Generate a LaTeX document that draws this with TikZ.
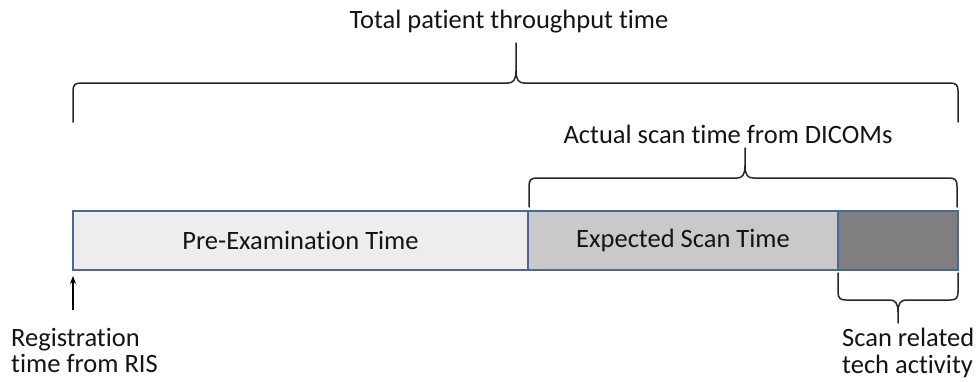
\documentclass[tikz,border=0pt]{standalone}
\usepackage{fontspec}
\setmainfont{Carlito}[Ligatures=NoCommon]
\usetikzlibrary{arrows.meta}
\definecolor{barline}{HTML}{4A679C}
\definecolor{preFill}{HTML}{EDEDED}
\definecolor{expFill}{HTML}{C9C9C9}
\definecolor{techFill}{HTML}{7F7F7F}
\definecolor{txt}{HTML}{141414}
% #1 x left, #2 x right, #3 y of the ends, #4 y of the bar, #5 x tip, #6 y tip, #7 sign (1: ends below bar, -1: ends above)
\newcommand\mybrace[7]{%
  \draw[bracestyle] (#1,#3) -- (#1,{#4+8*#7}) .. controls (#1,{#4+2*#7}) and ({#1+2},#4) .. ({#1+8},#4)
    -- ({#5-8},#4) .. controls ({#5-3},#4) and (#5,{#4-3*#7}) .. (#5,{#4-12*#7}) -- (#5,#6);
  \draw[bracestyle] (#5,{#4-12*#7}) .. controls (#5,{#4-3*#7}) and ({#5+3},#4) .. ({#5+8},#4)
    -- ({#2-8},#4) .. controls ({#2-2},#4) and (#2,{#4+2*#7}) .. (#2,{#4+8*#7}) -- (#2,#3);
}
\begin{document}
\begin{tikzpicture}[x=1pt,y=-1pt,
  bar/.style={draw=barline, line width=1.1pt, inner sep=0pt, outer sep=0pt, anchor=north west,
    minimum height=59pt, font=\fontsize{26.5}{27}\selectfont, text=txt},
  lbl/.style={inner sep=0pt, font=\fontsize{26.5}{26.5}\selectfont, text=txt},
  bracestyle/.style={line width=1.5pt, draw=black!85, line cap=round, line join=round}]
\useasboundingbox[fill=white] (0,0) rectangle (976,381);
% bars
\node[bar, fill=preFill, minimum width=455pt] (pre) at (73,211) {Pre-Examination Time};
\node[bar, fill=expFill, minimum width=310pt, anchor=north west] (exp) at (pre.north east) {Expected Scan Time};
\node[bar, fill=techFill, minimum width=120pt, anchor=north west] (tech) at (exp.north east) {};
% braces
\mybrace{73}{958}{122}{83}{516}{43}{1}
\mybrace{529}{957}{207}{178}{745}{148}{1}
\mybrace{838}{958}{273}{300}{898}{323}{-1}
% labels
\node[lbl, anchor=base] (total) at (509,28) {Total patient throughput time};
\node[lbl, anchor=base] (actual) at (728,143) {Actual scan time from DICOMs};
\node[lbl, anchor=north west, align=left] (reg) at (11,328) {Registration\\time from RIS};
\node[lbl, anchor=north west, align=left] (techlbl) at (842,328) {Scan related\\tech activity};
% arrow
\coordinate (arrowfoot) at (73,310);
\draw[line width=1.2pt, -{Stealth[length=8pt,width=6pt]}, shorten >=6pt] (arrowfoot) -- (pre.south west);
\end{tikzpicture}
\end{document}
